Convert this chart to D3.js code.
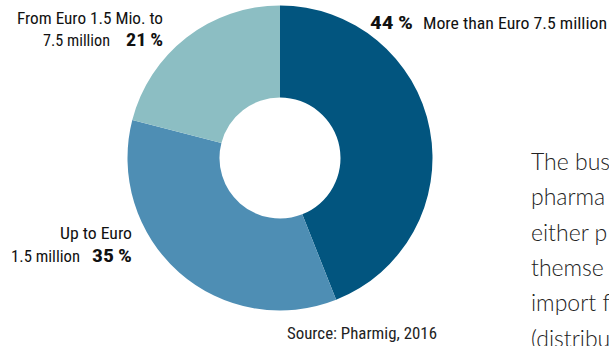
<!DOCTYPE html>
<html><head><meta charset="utf-8">
<script src="https://cdn.jsdelivr.net/npm/d3@7"></script>
<style>
html,body{margin:0;padding:0;background:#fff;overflow:hidden}
svg{display:block}
.lbl{font-family:"Liberation Sans Narrow","Roboto Condensed","Arial Narrow",sans-serif;font-size:16px;fill:#111}
.bold{font-weight:bold}
.body{font-family:Lato,"Open Sans",sans-serif;font-weight:300;font-size:23px;fill:#222}
</style></head>
<body>
<script>
const categories = ["More than Euro 7.5 million", "Up to Euro 1.5 million", "From Euro 1.5 Mio. to 7.5 million"];
const shares = [44, 35, 21];
const colors = ["#02557f", "#4e8eb4", "#8cbec3"];
const bodyLines = ["The bus", "pharma", "either p", "themse", "import f", "(distribu"];
const sourceText = "Source: Pharmig, 2016";

const W = 609, H = 346;
const svg = d3.select("body").append("svg").attr("width", W).attr("height", H);

const cx = 280, cy = 158, rOuter = 152.5, rInner = 60.5;
const pie = d3.pie().sort(null).value(d => d)(shares);
const arc = d3.arc().innerRadius(rInner).outerRadius(rOuter);
svg.append("g").attr("transform", `translate(${cx},${cy})`)
  .selectAll("path").data(pie).join("path")
  .attr("d", arc).attr("fill", (d, i) => colors[i]);

function txt(x, y, s, cls, anchor, len) {
  const t = svg.append("text").attr("class", cls).attr("x", x).attr("y", y)
    .attr("text-anchor", anchor || "start").text(s);
  if (len) t.attr("textLength", len).attr("lengthAdjust", "spacingAndGlyphs");
  return t;
}
const pct = v => v + "\u2009%";

// 44%
txt(370, 29, pct(shares[0]), "lbl bold", "start", 43).style("font-size", "19px");
txt(423, 29, categories[0], "lbl", "start", 184);
// 35%
txt(132, 239, "Up to Euro", "lbl", "end", 72);
txt(11, 262, "1.5 million", "lbl", "start", 69);
txt(132, 262, pct(shares[1]), "lbl bold", "end", 40).style("font-size", "19px");
// 21%
txt(163, 23.5, "From Euro 1.5 Mio. to", "lbl", "end", 146);
txt(43, 45.5, "7.5 million", "lbl", "start", 67);
txt(163, 45.5, pct(shares[2]), "lbl bold", "end", 37).style("font-size", "19px");

// Source
txt(287, 339, sourceText, "lbl", "start", 150).style("font-size", "17px").style("fill", "#222");

// body paragraph (only the part visible at the window edge)
bodyLines.forEach((s, i) => txt(531, 170 + i * 35.3, s, "body", "start"));
</script>
</body></html>
